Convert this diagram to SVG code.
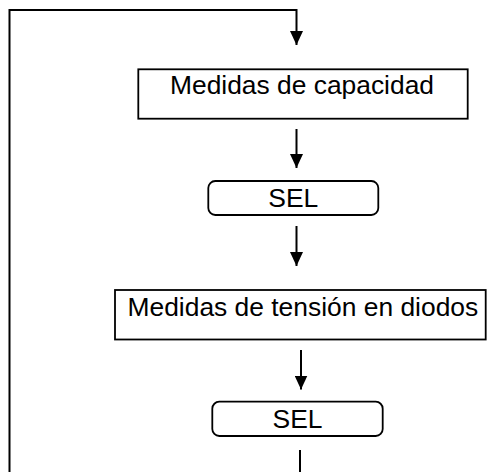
<svg xmlns="http://www.w3.org/2000/svg" width="488" height="472" viewBox="0 0 488 472">
<style>
.box{fill:#fff;stroke:#000;stroke-width:1.8}
.conn{fill:none;stroke:#000;stroke-width:2}
.lbl{font-family:"Liberation Sans",Arial,sans-serif;font-size:25px;fill:#000}
</style>
<defs>
<marker id="arr" viewBox="0 0 14 13" refX="14" refY="6.5" markerWidth="14" markerHeight="13" markerUnits="userSpaceOnUse" orient="auto">
<path d="M0,0 L14,6.5 L0,13 z" fill="#000"/>
</marker>
</defs>
<rect width="488" height="472" fill="#fff"/>
<g id="connectors">
<path class="conn" d="M9.5,472 V10 H296.5 V45" marker-end="url(#arr)"/>
<path class="conn" d="M296.5,129 V168" marker-end="url(#arr)"/>
<path class="conn" d="M296.5,226 V266" marker-end="url(#arr)"/>
<path class="conn" d="M301,350 V389.5" marker-end="url(#arr)"/>
<path class="conn" d="M300,450 V472"/>
</g>
<g id="node1">
<rect class="box" x="138.3" y="69.3" width="329.4" height="49.4"/>
<text class="lbl" x="170" y="94.3" textLength="264" lengthAdjust="spacingAndGlyphs">Medidas de capacidad</text>
</g>
<g id="node2">
<rect class="box" x="208.3" y="181" width="170" height="34" rx="7" ry="7"/>
<text class="lbl" x="293.3" y="206.7" text-anchor="middle" textLength="50" lengthAdjust="spacingAndGlyphs">SEL</text>
</g>
<g id="node3">
<rect class="box" x="115" y="290" width="370.7" height="49.5"/>
<text class="lbl" x="127.5" y="316" textLength="350.7" lengthAdjust="spacingAndGlyphs">Medidas de tensión en diodos</text>
</g>
<g id="node4">
<rect class="box" x="212.3" y="401.7" width="170.4" height="34.3" rx="7" ry="7"/>
<text class="lbl" x="297.5" y="428.3" text-anchor="middle" textLength="50" lengthAdjust="spacingAndGlyphs">SEL</text>
</g>
</svg>
